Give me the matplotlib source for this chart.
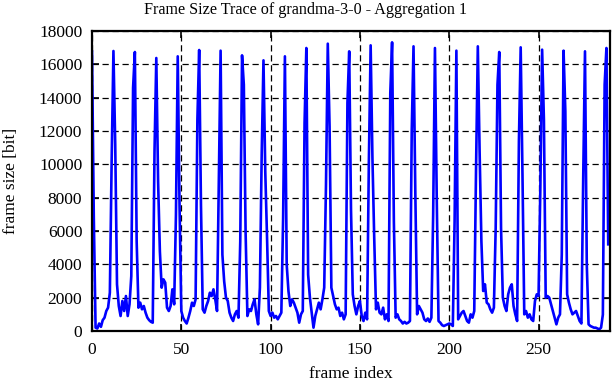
import matplotlib
matplotlib.use('Agg')
import matplotlib.pyplot as plt
import numpy as np

# frame sizes (bit), one per frame index
frame_size = [
    16760, 6900, 200, 150, 450, 250, 650, 800, 1200, 1400,
    2300, 10200, 16800, 11200, 2800, 1500, 900, 1800, 1200, 2100,
    900, 1600, 3300, 14600, 16740, 5400, 1400, 1700, 1300, 1500,
    1100, 800, 650, 550, 500, 10800, 16380, 8980, 4780, 2600,
    3100, 2900, 1400, 1200, 1500, 2500, 1600, 6980, 16480, 7580,
    1200, 800, 600, 450, 800, 1200, 1700, 1500, 1900, 12680,
    16860, 7580, 1300, 1100, 1500, 1800, 2300, 2100, 2500, 1900,
    1200, 8980, 16820, 4580, 2980, 2000, 1800, 1100, 800, 600,
    1000, 1200, 800, 5380, 16540, 14780, 5880, 900, 1300, 1200,
    1600, 1900, 1000, 400, 2600, 10580, 16240, 9580, 5580, 1200,
    900, 1100, 800, 900, 700, 900, 1100, 6780, 16480, 3980,
    2380, 1500, 1900, 1700, 1400, 1100, 500, 1000, 1200, 12480,
    16980, 3380, 2000, 1100, 200, 900, 1300, 1700, 1300, 1900,
    2600, 8780, 17240, 12280, 2600, 2100, 1600, 1300, 1400, 900,
    1100, 700, 1000, 13680, 16780, 7280, 2200, 1500, 1000, 1500,
    1800, 900, 600, 1100, 700, 10180, 17140, 10380, 5580, 1300,
    1700, 1100, 1000, 1400, 700, 1000, 600, 14280, 17320, 6580,
    800, 1000, 700, 600, 450, 550, 450, 500, 600, 11980,
    17080, 8380, 1000, 1500, 1300, 1100, 700, 600, 750, 550,
    800, 6980, 16980, 7980, 600, 500, 350, 300, 350, 400,
    450, 400, 300, 6580, 16820, 700, 900, 1100, 1200, 900,
    600, 500, 1000, 800, 1200, 9680, 17080, 10780, 5380, 2400,
    2800, 1700, 1600, 1300, 1100, 1400, 6180, 14780, 16740, 6180,
    2000, 1500, 1200, 2200, 2600, 2800, 1500, 1000, 600, 11380,
    17020, 9380, 1000, 1200, 800, 1000, 700, 600, 1800, 2200,
    2100, 8580, 16880, 12680, 2000, 2100, 2000, 1600, 1200, 800,
    400, 800, 1000, 4580, 16820, 13180, 2200, 1700, 1300, 1000,
    1100, 1200, 900, 600, 450, 9180, 16780, 4000, 400, 300,
    250, 200, 200, 150, 100, 200, 980, 14780, 16980, 5200,
]
frame_index = np.arange(len(frame_size))

x_ticks = [0, 50, 100, 150, 200, 250]
y_ticks = list(range(0, 18001, 2000))

plt.rcParams['font.family'] = ['Liberation Serif', 'DejaVu Serif']

fig = plt.figure(figsize=(6.12, 3.82), dpi=100)
ax = fig.add_axes([92/612, 51/382, 518/612, 300/382])

ax.plot(frame_index, frame_size, color='#0000ff', lw=1.9)

ax.set_xlim(0, 290)
ax.set_ylim(0, 18000)
ax.set_xticks(x_ticks)
ax.set_yticks(y_ticks)
ax.grid(True, color='black', linestyle=(0, (5, 3)), lw=0.9)

for s in ax.spines.values():
    s.set_linewidth(1.6)
ax.tick_params(direction='in', length=5, width=1.2, top=True, right=True,
               labelsize=12.5)
ax.tick_params(axis='x', pad=8)
ax.tick_params(axis='y', pad=7)

ax.set_xlabel('frame index', fontsize=12.5, labelpad=6)
ax.set_ylabel('frame size [bit]', fontsize=12.5, labelpad=14)
fig.text(0.5, 1 - 10/382, 'Frame Size Trace of grandma-3-0 - Aggregation 1',
         ha='center', va='center', fontsize=11.6)

fig.savefig('out.png', dpi=100)
